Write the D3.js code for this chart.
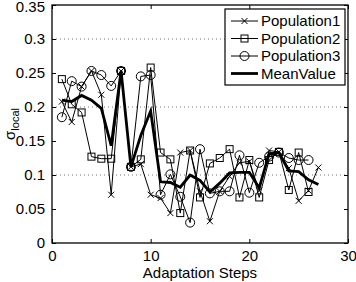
<!DOCTYPE html>
<html>
<head>
<meta charset="utf-8">
<script src="https://cdn.jsdelivr.net/npm/d3@7"></script>
<style>
  body { margin: 0; background: #fff; }
  text { font-family: "Liberation Sans", Arial, sans-serif; fill: #000; }
</style>
</head>
<body>
<div id="chart"></div>
<script>
const steps = d3.range(1, 28);
const pop1 = [0.208, 0.178, 0.230, 0.253, 0.218, 0.071, 0.253, 0.112, 0.116, 0.071,
              0.066, 0.044, 0.133, 0.136, 0.076, 0.032, 0.076, 0.098, 0.118, 0.120,
              0.077, 0.136, 0.134, 0.110, 0.062, 0.077, 0.111];
const pop2 = [0.241, 0.204, 0.192, 0.127, 0.124, 0.124, 0.253, 0.112, 0.123, 0.258,
              0.133, 0.123, 0.044, 0.136, 0.067, 0.117, 0.125, 0.138, 0.067, 0.122,
              0.067, 0.122, 0.134, 0.078, 0.133, 0.075];
const pop3 = [0.185, 0.238, 0.230, 0.253, 0.247, 0.231, 0.253, 0.112, 0.245, 0.247,
              0.071, 0.101, 0.068, 0.030, 0.138, 0.073, 0.076, 0.076, 0.129, 0.074,
              0.118, 0.127, 0.133, 0.125, 0.122, 0.122];
const meanValue = [0.210, 0.208, 0.217, 0.210, 0.198, 0.143, 0.253, 0.112, 0.158, 0.194,
                   0.090, 0.089, 0.082, 0.100, 0.092, 0.075, 0.088, 0.103, 0.104, 0.104,
                   0.081, 0.131, 0.133, 0.106, 0.105, 0.093, 0.086];
const seriesNames = ["Population1", "Population2", "Population3", "MeanValue"];
const xTicks = [0, 10, 20, 30];
const yTicks = [0, 0.05, 0.1, 0.15, 0.2, 0.25, 0.3, 0.35];
const gridValues = [0.1, 0.2, 0.3];

const width = 356, height = 282;
const m = { left: 52, right: 348, top: 5, bottom: 243 };

const svg = d3.select("#chart").append("svg")
    .attr("width", width)
    .attr("height", height);

const x = d3.scaleLinear().domain([0, 30]).range([m.left, m.right]);
const y = d3.scaleLinear().domain([0, 0.35]).range([m.bottom, m.top]);

// dotted grid
svg.append("g").selectAll("line")
    .data(gridValues)
    .join("line")
    .attr("x1", m.left).attr("x2", m.right)
    .attr("y1", d => y(d)).attr("y2", d => y(d))
    .attr("stroke", "#777")
    .attr("stroke-width", 1)
    .attr("stroke-dasharray", "1,3");

// axes with inward ticks
const fmt = d => d === 0 ? "0" : d3.format("")(d);
svg.append("g")
    .attr("transform", `translate(0,${m.bottom})`)
    .call(d3.axisBottom(x).tickValues(xTicks).tickSizeInner(-4).tickSizeOuter(0).tickPadding(7).tickFormat(fmt))
    .call(g => g.select(".domain").remove());
svg.append("g")
    .attr("transform", `translate(0,${m.top})`)
    .call(d3.axisTop(x).tickValues(xTicks).tickSizeInner(-4).tickSizeOuter(0).tickFormat(""))
    .call(g => g.select(".domain").remove());
svg.append("g")
    .attr("transform", `translate(${m.left},0)`)
    .call(d3.axisLeft(y).tickValues(yTicks).tickSizeInner(-4).tickSizeOuter(0).tickPadding(7).tickFormat(fmt))
    .call(g => g.select(".domain").remove())
    .call(g => g.selectAll(".tick text").filter(d => d === 0.35).attr("dy", "0.45em"));
svg.append("g")
    .attr("transform", `translate(${m.right},0)`)
    .call(d3.axisRight(y).tickValues(yTicks).tickSizeInner(-4).tickSizeOuter(0).tickFormat(""))
    .call(g => g.select(".domain").remove());

svg.selectAll(".tick text")
    .attr("font-size", "15px")
    .attr("font-family", "Liberation Sans, Arial, sans-serif");
svg.selectAll(".tick line").attr("stroke", "#000");

svg.append("rect")
    .attr("x", m.left).attr("y", m.top)
    .attr("width", m.right - m.left).attr("height", m.bottom - m.top)
    .attr("fill", "none")
    .attr("stroke", "#000")
    .attr("stroke-width", 1.3);

const line = d3.line()
    .x((d, i) => x(steps[i]))
    .y(d => y(d));

const plot = svg.append("g");

[pop1, pop2, pop3].forEach(s => {
    plot.append("path")
        .datum(s)
        .attr("d", line)
        .attr("fill", "none")
        .attr("stroke", "#000")
        .attr("stroke-width", 1);
});

function drawMarker(g, type, cx, cy) {
    if (type === "x") {
        g.append("path")
            .attr("d", `M${cx - 3},${cy - 3}L${cx + 3},${cy + 3}M${cx - 3},${cy + 3}L${cx + 3},${cy - 3}`)
            .attr("stroke", "#000").attr("stroke-width", 1).attr("fill", "none");
    } else if (type === "square") {
        g.append("rect")
            .attr("x", cx - 3.5).attr("y", cy - 3.5)
            .attr("width", 7).attr("height", 7)
            .attr("fill", "none").attr("stroke", "#000").attr("stroke-width", 1);
    } else if (type === "circle") {
        g.append("circle")
            .attr("cx", cx).attr("cy", cy).attr("r", 4.5)
            .attr("fill", "none").attr("stroke", "#000").attr("stroke-width", 1);
    }
}

const markerTypes = ["x", "square", "circle"];
[pop1, pop2, pop3].forEach((s, k) => {
    s.forEach((v, i) => drawMarker(plot, markerTypes[k], x(steps[i]), y(v)));
});

plot.append("path")
    .datum(meanValue)
    .attr("d", line)
    .attr("fill", "none")
    .attr("stroke", "#000")
    .attr("stroke-width", 2.8)
    .attr("stroke-linejoin", "miter");

// legend
const legend = svg.append("g");
legend.append("rect")
    .attr("x", 225).attr("y", 9)
    .attr("width", 120).attr("height", 76)
    .attr("fill", "#fff")
    .attr("stroke", "#000")
    .attr("stroke-width", 1.2);

seriesNames.forEach((name, i) => {
    const ly = 21 + i * 17.5;
    legend.append("line")
        .attr("x1", 231).attr("x2", 258)
        .attr("y1", ly).attr("y2", ly)
        .attr("stroke", "#000")
        .attr("stroke-width", i === 3 ? 2.8 : 1);
    if (i < 3) drawMarker(legend, markerTypes[i], 244.5, ly);
    legend.append("text")
        .attr("x", 261).attr("y", ly + 5)
        .attr("font-size", "15px")
        .text(name);
});

// axis labels
svg.append("text")
    .attr("x", (m.left + m.right) / 2).attr("y", 278)
    .attr("text-anchor", "middle")
    .attr("font-size", "15px")
    .text("Adaptation Steps");

const yl = svg.append("text")
    .attr("transform", `translate(15,${(m.top + m.bottom) / 2}) rotate(-90)`)
    .attr("text-anchor", "middle")
    .attr("font-size", "15px");
yl.append("tspan").text("σ");
yl.append("tspan").attr("font-size", "11px").attr("dy", 4).text("local");
</script>
</body>
</html>
